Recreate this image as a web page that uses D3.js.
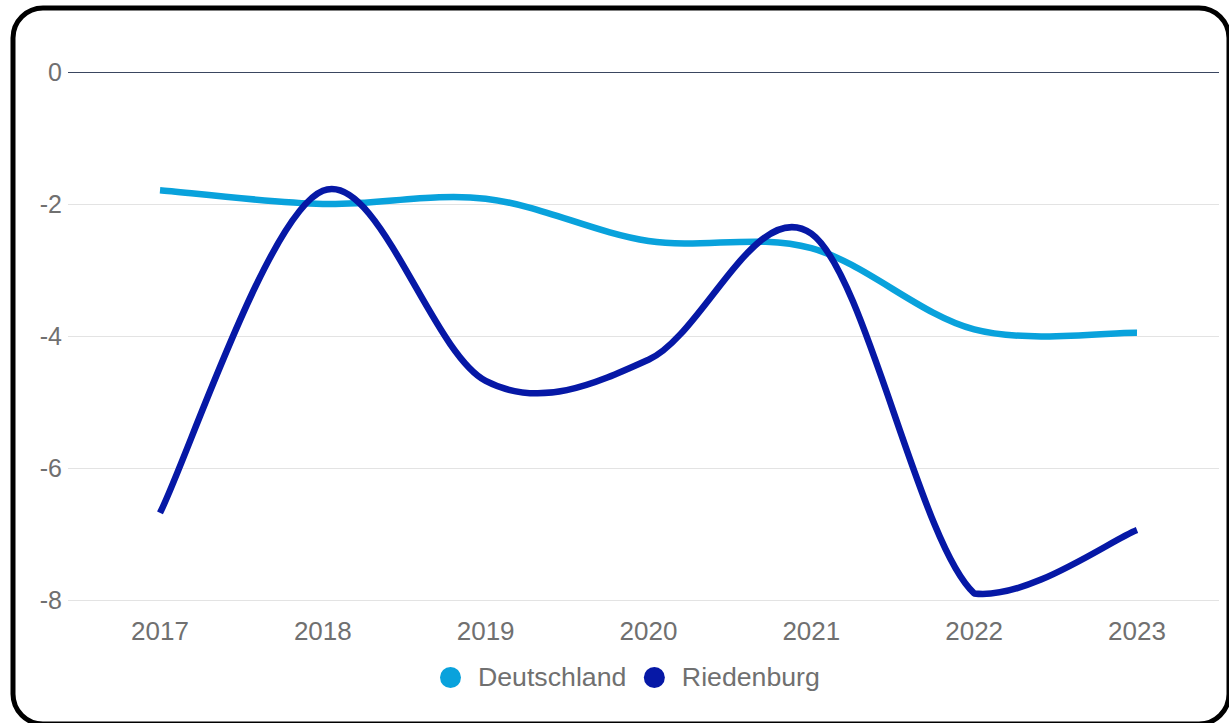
<!DOCTYPE html>
<html>
<head>
<meta charset="utf-8">
<script src="https://cdn.jsdelivr.net/npm/d3@7/dist/d3.min.js"></script>
<style>
  html, body { margin: 0; padding: 0; background: #ffffff; }
  svg { display: block; font-family: "Liberation Sans", Arial, sans-serif; }
</style>
</head>
<body>
<svg id="chart" width="1229" height="723"></svg>
<script>
// ---- data ----
const years = [2017, 2018, 2019, 2020, 2021, 2022, 2023];
const deutschland = [-1.79, -2.0, -1.92, -2.56, -2.67, -3.9, -3.95];
const riedenburg = [-6.68, -1.8, -4.68, -4.36, -2.45, -7.9, -6.94];
const seriesNames = ["Deutschland", "Riedenburg"];
const seriesColors = ["#09a2dc", "#0618a6"];
const yTicks = [0, -2, -4, -6, -8];

// ---- layout ----
const plotLeft = 68, plotRight = 1219;
const svg = d3.select("#chart");

svg.append("rect")
  .attr("x", 13).attr("y", 8)
  .attr("width", 1216).attr("height", 716)
  .attr("rx", 30).attr("ry", 30)
  .attr("fill", "#ffffff")
  .attr("stroke", "#000000")
  .attr("stroke-width", 5);

const x = d3.scaleLinear().domain([2017, 2023]).range([160, 1137]);
const y = d3.scaleLinear().domain([-8, 0]).range([600, 72]);

// gridlines
svg.append("g").selectAll("line")
  .data(yTicks)
  .join("line")
  .attr("x1", plotLeft).attr("x2", plotRight)
  .attr("y1", d => Math.round(y(d)) + 0.5)
  .attr("y2", d => Math.round(y(d)) + 0.5)
  .attr("stroke", d => d === 0 ? "#3a4660" : "#e3e3e3")
  .attr("stroke-width", 1.2);

// y labels
svg.append("g").selectAll("text")
  .data(yTicks)
  .join("text")
  .attr("x", 62)
  .attr("y", d => y(d))
  .attr("dy", "0.36em")
  .attr("text-anchor", "end")
  .attr("font-size", 25)
  .attr("fill", "#707070")
  .text(d => String(d));

// x labels
svg.append("g").selectAll("text")
  .data(years)
  .join("text")
  .attr("x", d => x(d))
  .attr("y", 640)
  .attr("text-anchor", "middle")
  .attr("font-size", 26)
  .attr("fill", "#707070")
  .text(d => String(d));

// Catmull-Rom style smoothing with control points clamped to the plot area
function smoothPath(vals) {
  const pts = vals.map((v, i) => [x(years[i]), y(v)]);
  const yMin = y(0), yMax = y(-8);
  const clampY = v => Math.max(yMin, Math.min(yMax, v));
  const p = d3.path();
  p.moveTo(pts[0][0], pts[0][1]);
  const n = pts.length;
  for (let i = 0; i < n - 1; i++) {
    const p0 = pts[Math.max(0, i - 1)];
    const p1 = pts[i];
    const p2 = pts[i + 1];
    const p3 = pts[Math.min(n - 1, i + 2)];
    const c1x = p1[0] + (p2[0] - p0[0]) / 6;
    const c1y = clampY(p1[1] + (p2[1] - p0[1]) / 6);
    const c2x = p2[0] - (p3[0] - p1[0]) / 6;
    const c2y = clampY(p2[1] - (p3[1] - p1[1]) / 6);
    p.bezierCurveTo(c1x, c1y, c2x, c2y, p2[0], p2[1]);
  }
  return p.toString();
}

const allSeries = [deutschland, riedenburg];
svg.append("g").selectAll("path")
  .data(allSeries)
  .join("path")
  .attr("d", d => smoothPath(d))
  .attr("fill", "none")
  .attr("stroke", (d, i) => seriesColors[i])
  .attr("stroke-width", 6.5)
  .attr("stroke-linejoin", "round");

// legend
const legend = svg.append("g");
let lx = 440;
seriesNames.forEach((name, i) => {
  legend.append("circle")
    .attr("cx", lx + 10.5).attr("cy", 677.5).attr("r", 10.5)
    .attr("fill", seriesColors[i]);
  const t = legend.append("text")
    .attr("x", lx + 38).attr("y", 686)
    .attr("font-size", 26.7)
    .attr("fill", "#707070")
    .text(name);
  lx = lx + 38 + t.node().getComputedTextLength() + 17.5;
});
</script>
</body>
</html>
